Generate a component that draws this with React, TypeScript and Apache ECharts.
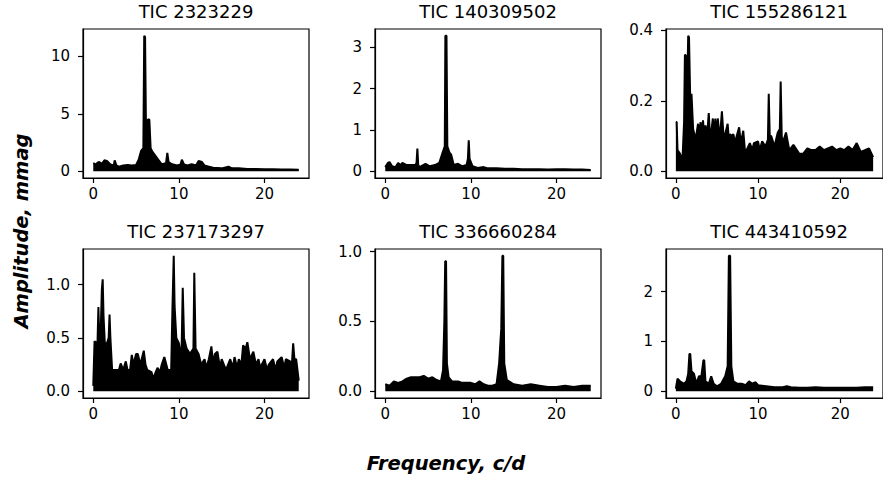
import React, { useEffect, useRef } from "react";
import * as echarts from "echarts";

const titles = ["TIC 2323229", "TIC 140309502", "TIC 155286121", "TIC 237173297", "TIC 336660284", "TIC 443410592"];

const f1 = [0, 0.3, 0.5, 0.7, 1.0, 1.3, 1.6, 2.0, 2.4, 2.5, 2.7, 3.0, 3.5, 4.0, 4.5, 5.0, 5.3, 5.6, 5.85, 5.95, 6.05, 6.15, 6.25, 6.4, 6.55, 6.7, 6.9, 7.2, 7.6, 8.0, 8.5, 8.65, 8.8, 9.2, 9.8, 10.2, 10.35, 10.6, 11.0, 11.5, 12.0, 12.3, 12.7, 13.0, 13.5, 14.0, 15.0, 15.8, 16.2, 17, 18, 19, 20, 21, 22, 23, 24];
const a1 = [0.7, 0.6, 0.75, 0.8, 0.65, 0.95, 0.9, 0.6, 0.5, 0.95, 0.5, 0.4, 0.5, 0.55, 0.5, 0.55, 1.0, 1.8, 2.0, 11.8, 11.7, 4.3, 4.3, 4.5, 4.5, 2.0, 1.7, 1.4, 1.0, 0.6, 0.7, 1.6, 0.8, 0.6, 0.5, 0.6, 1.0, 0.6, 0.5, 0.6, 0.5, 0.9, 0.8, 0.5, 0.4, 0.3, 0.25, 0.4, 0.25, 0.25, 0.2, 0.2, 0.18, 0.18, 0.15, 0.15, 0.12];

const f2 = [0, 0.3, 0.5, 0.8, 1.2, 1.5, 1.8, 2.0, 2.5, 3.0, 3.5, 3.65, 3.75, 3.85, 4.0, 4.7, 5.2, 5.8, 6.3, 6.7, 6.95, 7.02, 7.15, 7.25, 7.5, 7.7, 8.0, 8.5, 9.0, 9.5, 9.65, 9.75, 9.85, 10.2, 10.8, 11.5, 12, 13, 14, 15, 16, 17, 18, 19, 20, 21, 22, 23, 24];
const a2 = [0.1, 0.2, 0.22, 0.12, 0.1, 0.2, 0.15, 0.2, 0.15, 0.15, 0.15, 0.2, 0.55, 0.15, 0.1, 0.18, 0.12, 0.15, 0.2, 0.45, 0.6, 3.28, 3.28, 0.6, 0.45, 0.4, 0.15, 0.18, 0.12, 0.15, 0.3, 0.75, 0.3, 0.12, 0.08, 0.1, 0.07, 0.07, 0.06, 0.06, 0.05, 0.05, 0.05, 0.04, 0.05, 0.05, 0.04, 0.04, 0.03];

const f3 = [0, 0.1, 0.2, 0.5, 0.8, 1.0, 1.1, 1.2, 1.35, 1.5, 1.6, 1.75, 1.9, 2.1, 2.4, 2.7, 2.85, 3.0, 3.15, 3.3, 3.45, 3.6, 3.8, 4.0, 4.15, 4.3, 4.5, 4.65, 4.8, 4.95, 5.1, 5.35, 5.6, 5.8, 5.95, 6.3, 6.45, 6.6, 6.8, 7.0, 7.2, 7.4, 7.7, 7.9, 8.2, 8.4, 8.6, 9.0, 9.3, 9.5, 10.0, 10.2, 10.5, 10.9, 11.2, 11.3, 11.42, 11.6, 12.0, 12.4, 12.65, 12.75, 12.88, 13.0, 13.4, 13.8, 14.3, 15.0, 15.5, 16.0, 16.5, 17.0, 17.5, 18.0, 18.5, 19.0, 19.5, 20.0, 20.5, 21.0, 21.5, 22.0, 22.5, 23.0, 23.5, 24.0];
const a3 = [0.14, 0.14, 0.06, 0.05, 0.03, 0.14, 0.33, 0.33, 0.2, 0.385, 0.38, 0.2, 0.22, 0.12, 0.09, 0.135, 0.1, 0.14, 0.1, 0.145, 0.1, 0.13, 0.1, 0.165, 0.1, 0.11, 0.15, 0.1, 0.15, 0.1, 0.15, 0.09, 0.17, 0.1, 0.1, 0.135, 0.09, 0.105, 0.1, 0.105, 0.08, 0.1, 0.125, 0.08, 0.115, 0.06, 0.06, 0.08, 0.06, 0.08, 0.085, 0.06, 0.085, 0.07, 0.09, 0.22, 0.1, 0.1, 0.07, 0.11, 0.12, 0.255, 0.1, 0.08, 0.11, 0.06, 0.075, 0.05, 0.05, 0.065, 0.06, 0.06, 0.07, 0.06, 0.065, 0.07, 0.06, 0.065, 0.06, 0.07, 0.06, 0.08, 0.055, 0.06, 0.065, 0.04];

const f4 = [0, 0.15, 0.3, 0.5, 0.6, 0.7, 0.85, 1.0, 1.1, 1.2, 1.35, 1.6, 1.8, 1.9, 2.0, 2.2, 2.6, 3.0, 3.2, 3.5, 3.8, 4.0, 4.3, 4.5, 4.7, 5.0, 5.2, 5.5, 5.9, 6.1, 6.3, 6.8, 7.0, 7.5, 7.8, 8.0, 8.3, 8.7, 9.1, 9.25, 9.4, 9.5, 9.7, 10.0, 10.3, 10.45, 10.6, 10.9, 11.3, 11.7, 11.8, 11.95, 12.3, 12.6, 13.0, 13.2, 13.5, 13.8, 14.0, 14.2, 14.5, 14.8, 15.0, 15.5, 16.0, 16.3, 16.5, 16.8, 17.0, 17.3, 17.5, 17.8, 18.0, 18.3, 18.7, 19.0, 19.3, 19.5, 20.0, 20.3, 20.5, 21.0, 21.3, 21.5, 22.0, 22.3, 22.5, 23.0, 23.2, 23.35, 23.5, 23.7, 24.0];
const a4 = [0.05, 0.47, 0.45, 0.47, 0.79, 0.5, 0.5, 0.95, 1.05, 0.7, 0.45, 0.45, 0.5, 0.72, 0.5, 0.2, 0.2, 0.2, 0.26, 0.2, 0.28, 0.2, 0.2, 0.34, 0.25, 0.35, 0.35, 0.25, 0.38, 0.25, 0.2, 0.18, 0.12, 0.22, 0.18, 0.25, 0.32, 0.2, 0.2, 0.78, 1.27, 0.8, 0.5, 0.45, 0.3, 0.97, 0.5, 0.4, 0.35, 0.4, 1.11, 0.4, 0.35, 0.25, 0.3, 0.22, 0.3, 0.42, 0.25, 0.35, 0.37, 0.22, 0.3, 0.2, 0.3, 0.22, 0.32, 0.22, 0.3, 0.25, 0.43, 0.4, 0.46, 0.3, 0.37, 0.25, 0.3, 0.22, 0.3, 0.2, 0.25, 0.3, 0.2, 0.28, 0.32, 0.22, 0.3, 0.28, 0.25, 0.45, 0.3, 0.3, 0.1];

const f5 = [0, 0.5, 1, 1.5, 2, 2.5, 3, 3.5, 4, 4.5, 5, 5.5, 6, 6.5, 6.75, 6.9, 7.0, 7.1, 7.2, 7.4, 7.8, 8.5, 9, 10, 10.5, 11, 11.5, 12, 12.5, 13, 13.3, 13.55, 13.68, 13.78, 13.9, 14.2, 15, 16, 17, 18, 19, 20, 21, 22, 23, 24];
const a5 = [0.05, 0.04, 0.07, 0.06, 0.07, 0.09, 0.1, 0.1, 0.1, 0.11, 0.09, 0.1, 0.08, 0.07, 0.15, 0.5, 0.93, 0.93, 0.2, 0.1, 0.07, 0.07, 0.06, 0.06, 0.05, 0.07, 0.05, 0.04, 0.04, 0.05, 0.2, 0.45, 0.97, 0.97, 0.2, 0.08, 0.05, 0.04, 0.05, 0.04, 0.03, 0.03, 0.04, 0.03, 0.04, 0.04];

const f6 = [0, 0.2, 0.5, 1.0, 1.3, 1.5, 1.65, 1.75, 1.9, 2.2, 2.5, 2.8, 3.1, 3.35, 3.45, 3.6, 4.0, 4.3, 4.6, 5.0, 5.5, 6.0, 6.3, 6.45, 6.6, 6.75, 7.0, 7.5, 8.0, 8.5, 8.9, 9.3, 9.7, 10, 11, 12, 13, 13.5, 14, 15, 16, 17, 18, 19, 20, 21, 22, 23, 24];
const a6 = [0.05, 0.25, 0.2, 0.15, 0.2, 0.35, 0.75, 0.75, 0.4, 0.35, 0.15, 0.3, 0.3, 0.62, 0.62, 0.2, 0.15, 0.3, 0.15, 0.1, 0.15, 0.3, 0.5, 2.72, 2.72, 0.5, 0.2, 0.15, 0.15, 0.12, 0.2, 0.15, 0.18, 0.12, 0.1, 0.08, 0.08, 0.1, 0.08, 0.07, 0.07, 0.08, 0.07, 0.07, 0.07, 0.07, 0.07, 0.08, 0.08];

const freqs = [f1, f2, f3, f4, f5, f6];
const amps = [a1, a2, a3, a4, a5, a6];

const xTicks = [0, 10, 20];
const yTicks = [[0, 5, 10], [0, 1, 2, 3], [0, 0.2, 0.4], [0, 0.5, 1.0], [0, 0.5, 1.0], [0, 1, 2]];
const yDecimals = [0, 0, 1, 1, 1, 0];

const FONT = "DejaVu Sans";

export default function App() {
  const ref = useRef<HTMLDivElement>(null);
  useEffect(() => {
    if (!ref.current) return;
    const chart = echarts.init(ref.current, null, { renderer: "svg" });
    const lefts = [83, 375, 666];
    const tops = [29, 249];
    const W = 226;
    const H = 149;
    const grids: any[] = [];
    const xAxes: any[] = [];
    const yAxes: any[] = [];
    const series: any[] = [];
    const graphics: any[] = [];
    for (let i = 0; i < 6; i++) {
      const col = i % 3;
      const row = Math.floor(i / 3);
      grids.push({
        left: lefts[col],
        top: tops[row],
        width: W,
        height: H,
        show: true,
        borderColor: "#000",
        borderWidth: 1.2,
        backgroundColor: "transparent",
        containLabel: false,
      });
      const fr = freqs[i];
      const am = amps[i];
      const fmin = Math.min(...fr);
      const fmax = Math.max(...fr);
      const amax = Math.max(...am);
      const dx = (fmax - fmin) * 0.05;
      xAxes.push({
        type: "value",
        gridIndex: i,
        position: "bottom",
        min: fmin - dx,
        max: fmax + dx,
        axisLine: { show: true, onZero: false, lineStyle: { color: "#000", width: 1.2 } },
        splitLine: { show: false },
        axisTick: { show: true, length: 5, inside: false, customValues: xTicks, lineStyle: { color: "#000", width: 1.2 } },
        axisLabel: {
          show: true,
          customValues: xTicks,
          margin: 8,
          color: "#000",
          fontSize: 15,
          fontFamily: FONT,
          formatter: (v: number) => String(v),
        },
      });
      const dec = yDecimals[i];
      yAxes.push({
        type: "value",
        gridIndex: i,
        position: "left",
        min: -0.05 * amax,
        max: 1.05 * amax,
        axisLine: { show: true, onZero: false, lineStyle: { color: "#000", width: 1.2 } },
        splitLine: { show: false },
        axisTick: { show: true, length: 5, inside: false, customValues: yTicks[i], lineStyle: { color: "#000", width: 1.2 } },
        axisLabel: {
          show: true,
          customValues: yTicks[i],
          margin: 13,
          color: "#000",
          fontSize: 15,
          fontFamily: FONT,
          formatter: (v: number) => v.toFixed(dec),
        },
      });
      series.push({
        type: "line",
        xAxisIndex: i,
        yAxisIndex: i,
        data: fr.map((f, k) => [f, am[k]]),
        showSymbol: false,
        symbol: "none",
        lineStyle: { color: "#000", width: 2 },
        itemStyle: { color: "#000" },
        areaStyle: { color: "#000", opacity: 1 },
        clip: true,
      });
      graphics.push({
        type: "text",
        x: lefts[col] + W / 2,
        y: tops[row] - 18,
        style: {
          text: titles[i],
          fontSize: 18,
          fontFamily: FONT,
          fill: "#000",
          align: "center",
          verticalAlign: "middle",
        },
      });
    }
    graphics.push({
      type: "text",
      x: 21,
      y: 231,
      rotation: Math.PI / 2,
      style: {
        text: "Amplitude, mmag",
        fontSize: 19.5,
        fontFamily: FONT,
        fontWeight: "bold",
        fontStyle: "italic",
        fill: "#000",
        align: "center",
        verticalAlign: "middle",
      },
    });
    graphics.push({
      type: "text",
      x: 446,
      y: 463,
      style: {
        text: "Frequency, c/d",
        fontSize: 19.5,
        fontFamily: FONT,
        fontWeight: "bold",
        fontStyle: "italic",
        fill: "#000",
        align: "center",
        verticalAlign: "middle",
      },
    });
    chart.setOption({
      animation: false,
      backgroundColor: "#fff",
      textStyle: { fontFamily: FONT },
      grid: grids,
      xAxis: xAxes,
      yAxis: yAxes,
      series,
      graphic: graphics,
    });
    return () => chart.dispose();
  }, []);
  return (
    <div
      ref={ref}
      style={{ position: "fixed", left: 0, top: 0, width: 883, height: 481 }}
    />
  );
}
